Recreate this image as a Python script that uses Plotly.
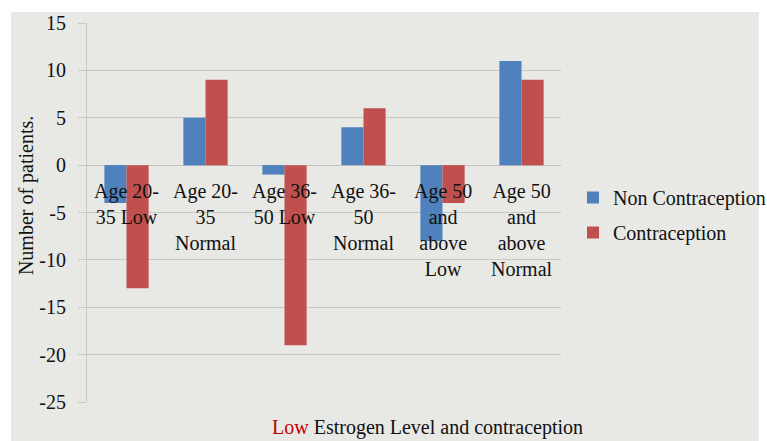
import plotly.graph_objects as go

categories = ["Age 20-<br>35 Low", "Age 20-<br>35<br>Normal", "Age 36-<br>50 Low",
              "Age 36-<br>50<br>Normal", "Age 50<br>and<br>above<br>Low", "Age 50<br>and<br>above<br>Normal"]
cat_keys = ["c1", "c2", "c3", "c4", "c5", "c6"]
non_contraception = [-4, 5, -1, 4, -8, 11]
contraception = [-13, 9, -19, 6, -4, 9]
y_ticks = [15, 10, 5, 0, -5, -10, -15, -20, -25]

FONT = "Liberation Serif, Times New Roman, serif"
W, H = 767, 441
L, R, T, B = 87, 199, 19, 39
PW, PH = W - L - R, H - T - B

def px_x(p):
    return (p - L) / PW

def px_y(p):
    return (H - B - p) / PH

fig = go.Figure()
fig.add_trace(go.Bar(x=cat_keys, y=non_contraception, name="Non Contraception",
                     marker=dict(color="#4f81bd", line=dict(width=0)), legendgroup="a"))
fig.add_trace(go.Bar(x=cat_keys, y=contraception, name="Contraception",
                     marker=dict(color="#c0504d", line=dict(width=0)), legendgroup="b"))

annotations = []
for k, lab in zip(cat_keys, categories):
    annotations.append(dict(x=k, y=0, xref="x", yref="y", text=lab, showarrow=False,
                            yanchor="top", xanchor="center", yshift=-13,
                            font=dict(family=FONT, size=20, color="#111111")))
annotations.append(dict(x=px_x(25), y=px_y(193), xref="paper", yref="paper",
                        text="Number of patients.", textangle=-90, showarrow=False,
                        xanchor="center", yanchor="middle",
                        font=dict(family=FONT, size=20, color="#111111")))
annotations.append(dict(x=px_x(433), y=px_y(428), xref="paper", yref="paper",
                        text="<span style='color:#c00000'>Low</span> Estrogen Level and contraception",
                        showarrow=False, xanchor="center", yanchor="middle",
                        font=dict(family=FONT, size=20, color="#111111")))

fig.update_layout(
    width=W, height=H, autosize=False,
    margin=dict(l=L, r=R, t=T, b=B),
    paper_bgcolor="white",
    plot_bgcolor="rgba(0,0,0,0)",
    barmode="group", bargap=0.44, bargroupgap=0,
    font=dict(family=FONT, size=20, color="#111111"),
    shapes=[dict(type="rect", xref="paper", yref="paper", layer="below",
                 x0=px_x(10), x1=px_x(W + 2), y0=px_y(H + 2), y1=px_y(8),
                 fillcolor="#e8e8e5", line=dict(width=0))],
    annotations=annotations,
    legend=dict(x=573 / W, y=1 - 178 / H, xanchor="left", yanchor="top",
                xref="container", yref="container", bgcolor="rgba(0,0,0,0)",
                traceorder="grouped", tracegroupgap=6,
                font=dict(family=FONT, size=20, color="#111111")),
    xaxis=dict(showticklabels=False, showgrid=False, zeroline=False,
               showline=False, ticks=""),
    yaxis=dict(range=[-25, 15], tickvals=y_ticks, ticktext=[str(v) for v in y_ticks],
               showgrid=True, gridcolor="#c6c6c4", gridwidth=1,
               zeroline=True, zerolinecolor="#c0c0be", zerolinewidth=1,
               showline=True, linecolor="#c6c6c4", linewidth=1,
               ticks="outside", ticklen=8, tickcolor="#c6c6c4",
               ticklabelstandoff=8,
               tickfont=dict(family=FONT, size=20, color="#111111")),
)

fig.write_html("out.html",
               config={"responsive": False, "displayModeBar": False},
               default_width="767px", default_height="441px",
               post_script="document.body.style.margin='0px';document.body.style.overflow='hidden';")
